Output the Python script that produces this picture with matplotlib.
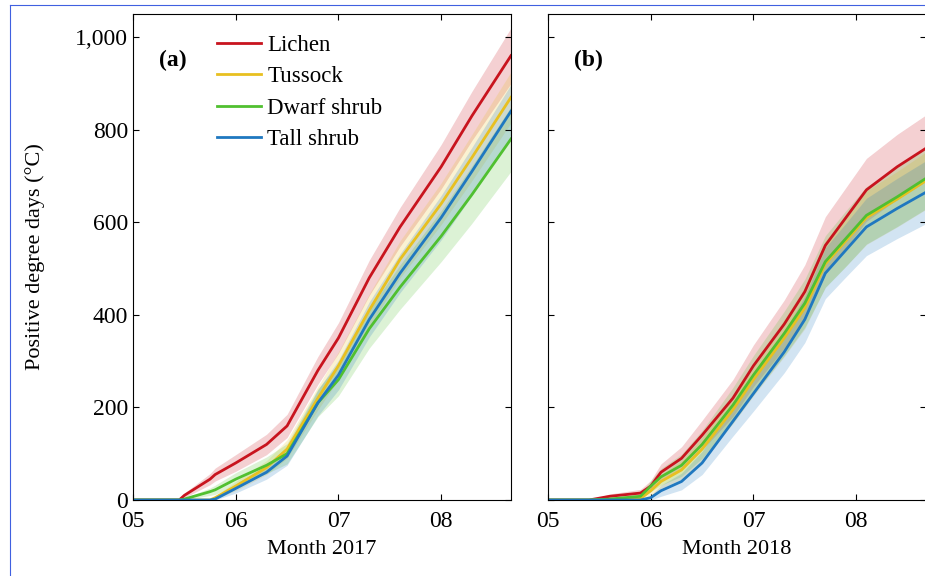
import matplotlib
matplotlib.use("Agg")
import matplotlib.pyplot as plt
import numpy as np

plt.rcParams['font.family'] = ['Liberation Serif', 'DejaVu Serif']

names = ["Lichen", "Tussock", "Dwarf shrub", "Tall shrub"]
colors = ["#c8141e", "#e8c020", "#50c030", "#1f78c0"]

# panel (a) 2017: month position, values
xa = [5.0, 5.45, 5.5, 5.75, 5.8, 6.0, 6.3, 6.5, 6.8, 7.0, 7.3, 7.6, 8.0, 8.3, 8.68]
ya = {
    "Lichen":      [0, 0, 10, 45, 55, 80, 120, 160, 280, 350, 480, 590, 720, 830, 960],
    "Tussock":     [0, 0, 0, 0, 5, 30, 70, 110, 220, 290, 410, 520, 640, 740, 870],
    "Dwarf shrub": [0, 0, 2, 18, 22, 45, 75, 100, 210, 260, 370, 460, 570, 660, 780],
    "Tall shrub":  [0, 0, 0, 0, 2, 25, 60, 95, 210, 270, 390, 490, 610, 710, 840],
}
sa = {
    "Lichen":      [0, 0, 5, 12, 14, 18, 22, 25, 30, 33, 38, 42, 48, 53, 60],
    "Tussock":     [0, 0, 0, 0, 3, 10, 15, 20, 25, 30, 35, 40, 45, 50, 55],
    "Dwarf shrub": [0, 0, 2, 8, 10, 14, 18, 22, 30, 35, 42, 48, 55, 62, 70],
    "Tall shrub":  [0, 0, 0, 0, 2, 10, 15, 20, 28, 32, 38, 42, 48, 52, 58],
}
# panel (b) 2018
xb = [5.0, 5.4, 5.6, 5.9, 6.0, 6.1, 6.3, 6.5, 6.8, 7.0, 7.3, 7.5, 7.7, 7.9, 8.1, 8.4, 8.68]
yb = {
    "Lichen":      [0, 0, 8, 15, 30, 60, 90, 140, 220, 290, 380, 450, 550, 610, 670, 720, 760],
    "Tussock":     [0, 0, 0, 3, 20, 40, 65, 110, 195, 260, 350, 415, 510, 560, 610, 650, 690],
    "Dwarf shrub": [0, 0, 2, 8, 30, 50, 75, 120, 205, 270, 360, 425, 515, 565, 615, 655, 695],
    "Tall shrub":  [0, 0, 0, 0, 5, 20, 40, 80, 170, 230, 320, 390, 490, 540, 590, 630, 665],
}
sb = {
    "Lichen":      [0, 0, 5, 8, 12, 18, 25, 32, 40, 45, 52, 58, 62, 65, 68, 70, 72],
    "Tussock":     [0, 0, 0, 3, 10, 15, 20, 25, 30, 35, 40, 45, 50, 55, 58, 60, 62],
    "Dwarf shrub": [0, 0, 2, 6, 12, 18, 24, 30, 38, 42, 48, 52, 56, 60, 62, 64, 66],
    "Tall shrub":  [0, 0, 0, 0, 5, 12, 18, 25, 32, 38, 45, 50, 55, 58, 62, 65, 68],
}
month_ticks = [5, 6, 7, 8]
month_labels = ["05", "06", "07", "08"]

fig = plt.figure(figsize=(9.25, 5.76), dpi=100)
W, H = 925, 576
axa = fig.add_axes([133/W, 1-500/H, 378/W, 486/H])
axb = fig.add_axes([548/W, 1-500/H, 378/W, 486/H])

for ax, x, ys, ss, lab, yr in [(axa, xa, ya, sa, "(a)", "2017"), (axb, xb, yb, sb, "(b)", "2018")]:
    for n, c in zip(names, colors):
        y = np.array(ys[n]); s = np.array(ss[n])
        ax.fill_between(x, y - s, y + s, color=c, alpha=0.2, lw=0)
    for n, c in zip(names, colors):
        ax.plot(x, ys[n], color=c, lw=2, label=n)
    ax.set_xlim(5, 8.68)
    ax.set_ylim(0, 1050)
    ax.set_xticks(month_ticks, month_labels)
    ax.set_yticks([0, 200, 400, 600, 800, 1000])
    ax.tick_params(direction='in', top=True, right=True, labelsize=17, length=4)
    ax.tick_params(axis='x', pad=8)
    ax.set_xlabel("Month " + yr, fontsize=16, labelpad=6)
    ax.text(0.07, 0.905, lab, transform=ax.transAxes, fontsize=17, fontweight='bold', va='center')
axa.set_yticklabels(["0", "200", "400", "600", "800", "1,000"])
axb.set_yticklabels([])
axa.set_ylabel("Positive degree days (°C)", fontsize=16, labelpad=22)
axa.legend(loc='upper left', bbox_to_anchor=(0.18, 0.99), frameon=False, fontsize=16.5,
           handlelength=1.9, handletextpad=0.3, borderaxespad=0.3, labelspacing=0.45)

fig.add_artist(plt.Line2D([10/W, 1], [1-5/H, 1-5/H], color='#4060e0', lw=0.8))
fig.add_artist(plt.Line2D([10/W, 10/W], [0, 1-5/H], color='#4060e0', lw=0.8))
fig.savefig("out.png", dpi=100)
